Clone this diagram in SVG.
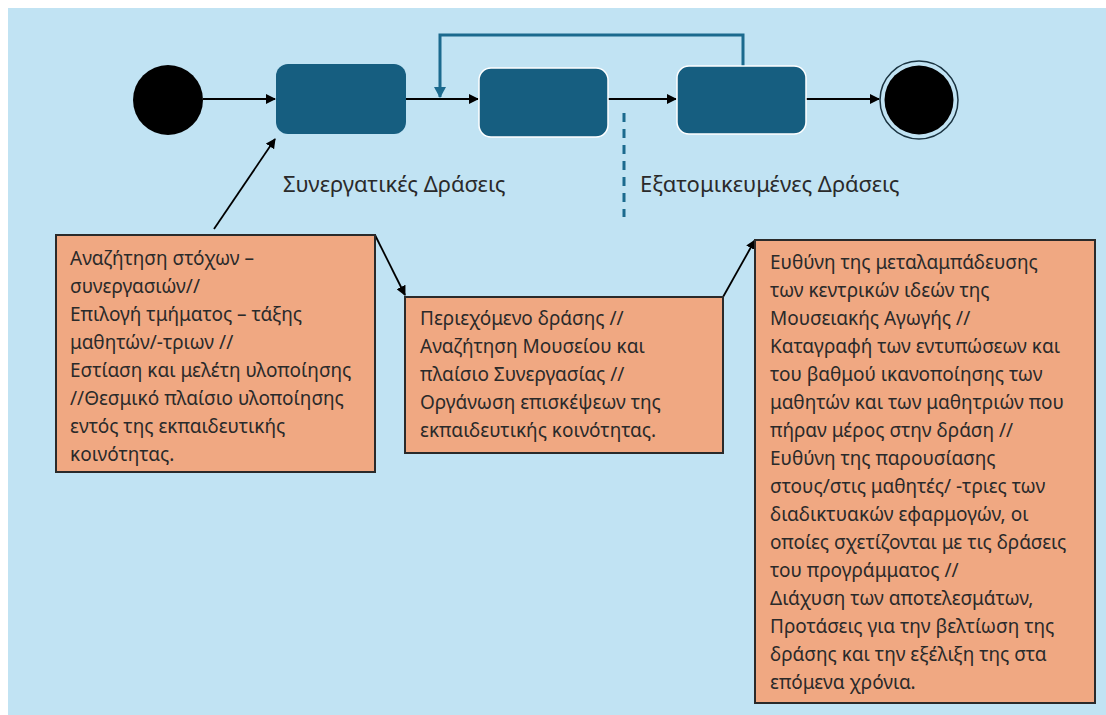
<svg xmlns="http://www.w3.org/2000/svg" width="1106" height="715" viewBox="0 0 1106 715">
<style>
.bg{fill:#C1E3F3}
.state{fill:#165E80}
.state2{fill:#165E80;stroke:#FFFFFF;stroke-width:1.5}
.note{fill:#F0A882;stroke:#2A2A2A;stroke-width:2}
.edge{stroke:#000;stroke-width:1.8;fill:none}
.loop{stroke:#1B6A8E;stroke-width:3;fill:none}
.t{font-family:"Noto Sans","DejaVu Sans",sans-serif;font-size:19px;fill:#2A2A2A}
.lbl{font-family:"Noto Sans","DejaVu Sans",sans-serif;font-size:22px;fill:#2A2A2A}
</style>
<defs>
<marker id="ah" markerWidth="10" markerHeight="10" refX="9" refY="5" orient="auto" markerUnits="userSpaceOnUse">
<path d="M0,0 L10,5 L0,10 z" fill="#000"/>
</marker>
<marker id="ahb" markerWidth="12" markerHeight="12" refX="10" refY="6" orient="auto" markerUnits="userSpaceOnUse">
<path d="M0,0 L11,6 L0,12 z" fill="#1B6A8E"/>
</marker>
</defs>
<rect x="0" y="0" width="1106" height="715" fill="#FFFFFF"/>
<rect class="bg" x="8" y="8" width="1098" height="707"/>

<g id="connectors">
<line class="edge" x1="203" y1="99" x2="275" y2="99" marker-end="url(#ah)"/>
<line class="edge" x1="406" y1="99" x2="478" y2="99" marker-end="url(#ah)"/>
<line class="edge" x1="608" y1="99" x2="676" y2="99" marker-end="url(#ah)"/>
<line class="edge" x1="806" y1="99" x2="879" y2="99" marker-end="url(#ah)"/>
<path class="loop" d="M743,66 V35 H440 V97" marker-end="url(#ahb)"/>
<line x1="624" y1="113" x2="624" y2="217" stroke="#1B6A8E" stroke-width="3" stroke-dasharray="9,7"/>
<line class="edge" x1="214" y1="229" x2="275" y2="139" marker-end="url(#ah)"/>
<line class="edge" x1="375" y1="235" x2="405" y2="295" marker-end="url(#ah)"/>
<line class="edge" x1="723" y1="297" x2="755" y2="240" marker-end="url(#ah)"/>
</g>

<g id="start"><circle cx="168" cy="100" r="35" fill="#000"/></g>
<g id="state1"><rect class="state" x="276" y="64" width="130" height="70" rx="12"/></g>
<g id="state2"><rect class="state2" x="479" y="68" width="129" height="69" rx="12"/></g>
<g id="state3"><rect class="state2" x="677" y="66" width="129" height="68" rx="12"/></g>
<g id="end">
<circle cx="919" cy="100" r="39" fill="none" stroke="#1A3340" stroke-width="1.5"/>
<circle cx="919" cy="100" r="34.5" fill="#000"/>
</g>

<g id="label-coop"><text class="lbl" x="283" y="192">Συνεργατικές Δράσεις</text></g>
<g id="label-indiv"><text class="lbl" x="640" y="192">Εξατομικευμένες Δράσεις</text></g>

<g id="note1">
<rect class="note" x="56" y="235" width="319" height="237"/>
<text class="t">
<tspan x="70" y="265">Αναζήτηση στόχων –</tspan>
<tspan x="70" y="293">συνεργασιών//</tspan>
<tspan x="70" y="321">Επιλογή τμήματος – τάξης</tspan>
<tspan x="70" y="349">μαθητών/-τριων //</tspan>
<tspan x="70" y="377">Εστίαση και μελέτη υλοποίησης</tspan>
<tspan x="70" y="405">//Θεσμικό πλαίσιο υλοποίησης</tspan>
<tspan x="70" y="433">εντός της εκπαιδευτικής</tspan>
<tspan x="70" y="461">κοινότητας.</tspan>
</text>
</g>

<g id="note2">
<rect class="note" x="405" y="297" width="318" height="156"/>
<text class="t">
<tspan x="420" y="325">Περιεχόμενο δράσης //</tspan>
<tspan x="420" y="353">Αναζήτηση Μουσείου και</tspan>
<tspan x="420" y="381">πλαίσιο Συνεργασίας //</tspan>
<tspan x="420" y="409">Οργάνωση επισκέψεων της</tspan>
<tspan x="420" y="437">εκπαιδευτικής κοινότητας.</tspan>
</text>
</g>

<g id="note3">
<rect class="note" x="755" y="240" width="340" height="463"/>
<text class="t">
<tspan x="770" y="269">Ευθύνη της μεταλαμπάδευσης</tspan>
<tspan x="770" y="297">των κεντρικών ιδεών της</tspan>
<tspan x="770" y="325">Μουσειακής Αγωγής //</tspan>
<tspan x="770" y="353">Καταγραφή των εντυπώσεων και</tspan>
<tspan x="770" y="381">του βαθμού ικανοποίησης των</tspan>
<tspan x="770" y="409">μαθητών και των μαθητριών που</tspan>
<tspan x="770" y="437">πήραν μέρος στην δράση //</tspan>
<tspan x="770" y="465">Ευθύνη της παρουσίασης</tspan>
<tspan x="770" y="493">στους/στις μαθητές/ -τριες των</tspan>
<tspan x="770" y="521">διαδικτυακών εφαρμογών, οι</tspan>
<tspan x="770" y="549">οποίες σχετίζονται με τις δράσεις</tspan>
<tspan x="770" y="577">του προγράμματος //</tspan>
<tspan x="770" y="605">Διάχυση των αποτελεσμάτων,</tspan>
<tspan x="770" y="633">Προτάσεις για την βελτίωση της</tspan>
<tspan x="770" y="661">δράσης και την εξέλιξη της στα</tspan>
<tspan x="770" y="689">επόμενα χρόνια.</tspan>
</text>
</g>
</svg>
